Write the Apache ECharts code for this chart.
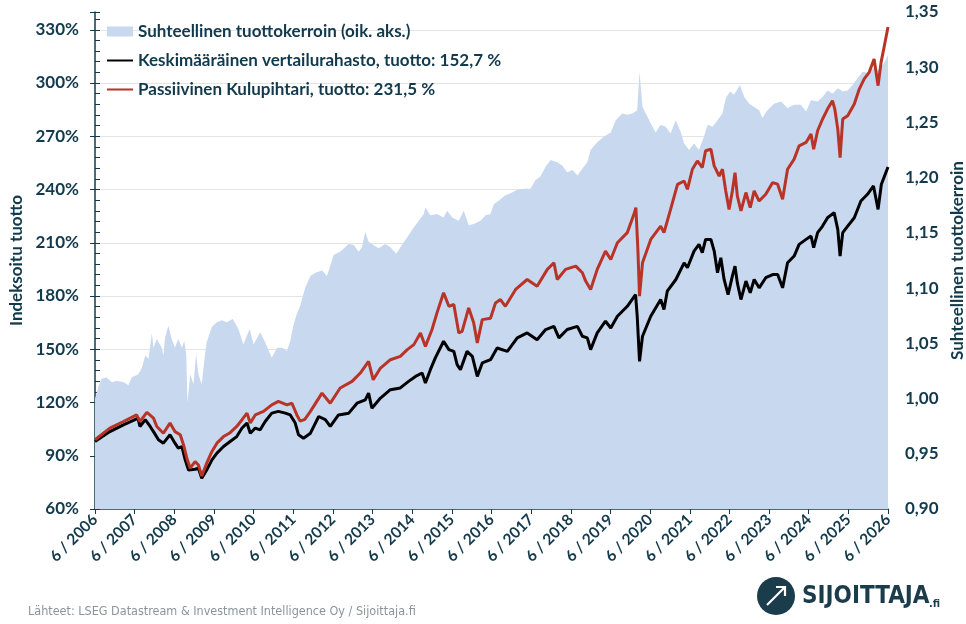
<!DOCTYPE html>
<html>
<head>
<meta charset="utf-8">
<title>Passiivinen Kulupihtari vs. vertailurahasto</title>
<script src="https://cdn.jsdelivr.net/npm/echarts@6/dist/echarts.min.js"></script>
<style>
  html, body { margin: 0; padding: 0; background: #fff; }
  #chart { width: 966px; height: 624px; }
</style>
</head>
<body>
<div id="chart"></div>
<script>
/* series names */
const seriesNames = [
  'Suhteellinen tuottokerroin (oik. aks.)',
  'Keskimääräinen vertailurahasto, tuotto: 152,7 %',
  'Passiivinen Kulupihtari, tuotto: 231,5 %'
];

/* x labels, one for every 12 months from 6/2006 */
const yearLabels = [
  '6 / 2006', '6 / 2007', '6 / 2008', '6 / 2009', '6 / 2010', '6 / 2011', '6 / 2012',
  '6 / 2013', '6 / 2014', '6 / 2015', '6 / 2016', '6 / 2017', '6 / 2018', '6 / 2019',
  '6 / 2020', '6 / 2021', '6 / 2022', '6 / 2023', '6 / 2024', '6 / 2025', '6 / 2026'
];

/* [months since 6/2006, indexed return %] */
const vertailurahasto = [
  [0,98],[4.5,103.6],[8.6,107.4],[11.6,109.9],[13,111.2],[13.6,106.5],[15.2,110.3],[16.7,106.5],[17.7,103.6],
  [19.2,99],[20.7,97.1],[22.7,101.8],[24.2,97.1],[25.2,94.3],[26.3,95.2],[27.3,87.7],[28.3,82],[30.3,82.4],
  [31.3,83],[32.3,77.3],[33.8,82],[35.4,87.7],[36.9,91.5],[38.9,95.2],[40.9,98],[42.9,100.8],[44.5,105.6],
  [46,108.4],[47,102.7],[48.5,105.6],[50,104.6],[51.5,109.3],[53.5,114],[55.5,115],[57.6,114],[59.1,113],
  [60.6,108.4],[61.6,101.8],[63.1,99.9],[65.2,102.7],[67.7,112.1],[69.7,110.3],[71.2,106.5],[73.7,113],
  [76.8,114],[79.3,119.6],[81.8,121.5],[82.8,125.3],[83.8,116.8],[86.4,122.5],[89.4,127.2],[92.4,128.2],
  [94.9,131.9],[97,134.7],[99,136.6],[100,131],[101.5,138.5],[103,145.1],[105.5,154.5],[107.1,149.8],
  [108.6,148.8],[109.6,141.3],[110.6,138.5],[112.6,148.8],[114.2,146],[115.7,134.7],[117.2,142.3],
  [119.7,144.1],[121.7,150.7],[124.8,148.8],[127.8,156.4],[130.8,159.2],[133.8,155.4],[136.4,161.1],
  [138.9,162.9],[140.4,156.4],[142.9,161.1],[146,162.9],[147.5,157.3],[149,156.4],[150,149.8],[152,159.2],
  [154.5,165.8],[156.1,162],[158.1,168.6],[161.1,174.2],[163.6,180.8],[164.1,168.6],[164.8,143.2],
  [165.7,157.3],[168.2,168.6],[171.2,178],[172.2,172.4],[173.2,182.7],[175.8,189.3],[178.3,198.7],
  [179.3,195.9],[181.3,205.3],[182.8,209.1],[183.8,204.4],[184.8,211.9],[186.4,211.9],[187.4,205.3],
  [188.4,193.1],[189.4,201.5],[190.4,189.3],[191.6,180.8],[192.9,191.2],[193.7,196.8],[194.4,187.4],
  [195.5,178],[197,188.4],[198.3,181.8],[199.5,189.3],[201,184.6],[203,190.3],[205.1,192.1],[206.6,192.1],
  [208.1,184.6],[209.6,198.7],[211.6,202.5],[213.1,209.1],[215.2,211.9],[216.7,213.8],[217.5,207.2],
  [218.7,215.7],[220.2,219.4],[221.7,224.1],[223.7,227],[224.8,217.5],[225.5,202.5],[226.3,215.7],
  [227.8,219.4],[229.8,224.1],[231.8,233.5],[233.8,237.3],[235.6,242],[237,228.8],[238,243],[240,252.7]
];

const kulupihtari = [
  [0,99],[4.5,105.6],[8.6,109.3],[12.6,113],[13.6,109.3],[15.7,114.4],[17.7,111.2],[18.7,106.5],[20.7,102.7],
  [22.7,108.4],[24.2,103.6],[25.8,101.8],[26.8,96.1],[27.8,88.6],[28.8,83],[30.3,86.7],[31.3,84.8],[32.3,78.6],
  [33.8,85.8],[35.4,92.4],[36.9,97.1],[38.9,100.8],[40.9,103],[42.9,106.5],[44.5,110.3],[46,114],[47,108.4],
  [48.5,113],[51,115],[53.5,118.7],[55.5,120.6],[58.1,118.7],[59.6,119.6],[61.1,113],[62.1,109.5],[63.5,110.5],
  [65.2,115],[68.7,125.3],[71.2,119.6],[74.2,128.2],[77.8,131.9],[80.3,136.6],[82.8,143.2],[84.2,132.8],
  [86.4,139.4],[89.4,144.1],[92.4,146],[94.5,149.8],[96.5,152.6],[98.5,159.2],[100,151.6],[102,161.1],
  [103.5,170.5],[105.5,181.8],[107.1,174.2],[108.6,175.2],[110.1,159.2],[111.1,160.1],[113.1,173.3],
  [114.6,164.9],[115.7,153.6],[117.2,166.7],[119.7,167.5],[121.2,176.1],[122.7,178],[124.2,174.2],
  [127.3,183.7],[130.8,189.3],[133.8,185.5],[136.9,195],[138.9,198.7],[139.9,189.3],[142.4,195],[145.5,196.8],
  [147.5,193.1],[148.5,188.4],[150,183.7],[152,195],[154.5,205.3],[156.1,200.6],[158.1,210],[161.1,215.7],
  [163.1,226],[163.7,229.8],[164.3,206.2],[164.8,179.9],[165.7,198.7],[168.2,211.9],[171.2,219.4],
  [172.2,215.7],[174.2,228.8],[176.3,242.9],[178.3,244.8],[179.3,240.1],[180.8,251.4],[182.3,256.1],
  [183.8,252.4],[184.8,261.8],[186.4,262.7],[187.4,253.3],[188.9,247.6],[189.9,251.4],[190.9,239.2],
  [191.9,228.8],[192.9,239.2],[193.7,249.5],[194.4,236.4],[195.5,227.9],[197,238.3],[198.3,229.8],
  [199.5,239.2],[201,233.5],[203,237.3],[205.1,243.9],[206.6,243],[208.1,234.5],[209.6,251.4],[211.6,257.1],
  [213.1,264.6],[215.2,266.5],[216.7,271.2],[217.5,262.7],[218.7,273.1],[220.2,279.7],[221.7,285.3],
  [223.2,290],[223.9,285.3],[224.8,274],[225.5,258],[226.3,279.7],[227.8,281.6],[229.8,288.2],[231.3,296.6],
  [232.8,302.3],[234.3,306],[235.8,313.5],[237,298.5],[237.9,311.6],[238.9,321],[240,331.5]
];

/* [months since 6/2006, relative return factor] */
const tuottokerroin = [
  [0,1.0],[0.5,1.001],[1.3,1.013],[2,1.018],[3.5,1.019],[5.1,1.015],[6.6,1.016],[8.6,1.015],[10.1,1.012],
  [11.1,1.019],[13.1,1.022],[14.2,1.028],[15.2,1.039],[16.2,1.036],[17.2,1.059],[17.7,1.046],[18.7,1.054],
  [20.2,1.046],[20.7,1.039],[21.2,1.055],[22.2,1.066],[23.2,1.054],[24.2,1.046],[25.2,1.054],[26.3,1.046],
  [27,1.052],[27.6,1.04],[28,0.996],[28.8,1.022],[29.8,1.013],[30.6,1.04],[31.3,1.022],[32.3,1.013],
  [33.3,1.04],[33.8,1.051],[35.4,1.065],[36.9,1.069],[38.4,1.071],[39.9,1.069],[41.7,1.072],[43.4,1.063],
  [44.9,1.049],[46.8,1.063],[48,1.049],[50,1.06],[51.5,1.051],[53.5,1.037],[55.1,1.046],[56.6,1.046],
  [58.1,1.043],[59.1,1.052],[60,1.066],[60.9,1.075],[62.1,1.084],[63.6,1.1],[65.2,1.111],[66.7,1.114],
  [68.7,1.116],[70.2,1.111],[71.2,1.12],[72.2,1.13],[74.2,1.133],[76.8,1.14],[78.3,1.139],[79.8,1.133],
  [80.8,1.137],[81.8,1.151],[82.8,1.142],[84.3,1.139],[85.8,1.136],[87.9,1.14],[89.4,1.137],[91.2,1.131],
  [92.9,1.139],[94.5,1.146],[96.5,1.155],[98,1.161],[99.5,1.167],[100,1.173],[101.5,1.166],[103.5,1.167],
  [105.5,1.164],[106.6,1.17],[108.1,1.164],[110.1,1.161],[111.6,1.17],[113.1,1.157],[114.6,1.158],
  [116.7,1.161],[118.2,1.166],[119.7,1.167],[120.7,1.176],[122.2,1.179],[124.2,1.184],[125.8,1.186],
  [127.8,1.189],[129.8,1.19],[131.8,1.19],[133.3,1.198],[134.8,1.201],[136.4,1.21],[137.9,1.216],
  [139.9,1.214],[141.4,1.211],[142.9,1.205],[144.5,1.207],[146,1.202],[147.5,1.208],[149,1.214],[150,1.225],
  [152,1.232],[154,1.237],[156.1,1.241],[157.6,1.252],[159.6,1.258],[161.1,1.257],[162.6,1.258],
  [164.1,1.261],[164.8,1.296],[165.7,1.264],[166.7,1.258],[168.2,1.249],[169.7,1.241],[171.2,1.248],
  [172.7,1.246],[174.2,1.24],[175.8,1.252],[177.3,1.241],[178.3,1.231],[179.8,1.225],[181.3,1.231],
  [182.8,1.225],[184.3,1.237],[185.4,1.248],[186.9,1.246],[188.4,1.252],[189.9,1.258],[190.9,1.272],
  [192.2,1.278],[193.4,1.275],[195.2,1.284],[196.5,1.273],[198,1.267],[199.5,1.264],[201,1.261],[202,1.254],
  [203.5,1.261],[205.5,1.267],[207.6,1.269],[209.6,1.263],[211.6,1.266],[213.6,1.266],[215.2,1.26],
  [216.7,1.27],[218.7,1.269],[220.2,1.273],[221.7,1.279],[223.2,1.276],[224.8,1.281],[226.3,1.278],
  [227.8,1.279],[229.3,1.284],[230.8,1.29],[232.3,1.296],[233.8,1.295],[235.4,1.299],[236.9,1.297],
  [238.4,1.302],[239.4,1.307],[240,1.311]
];

const sourceText = 'Lähteet: LSEG Datastream & Investment Intelligence Oy / Sijoittaja.fi';

/* colours and fonts */
const TEXT = '#123a4c';
const AREA = '#c7d8ef';
const RED = '#b93427';
const FONT = 'Lato, "Open Sans", sans-serif';
const NARROW = '"Liberation Sans Narrow", "DejaVu Sans Condensed", sans-serif';

let chart = echarts.init(document.getElementById('chart'));

let boldText = {color: TEXT, fontWeight: 'bold', fontSize: 17, fontFamily: FONT};

let option = {
  animation: false,
  backgroundColor: '#fff',
  textStyle: {fontFamily: FONT},
  /* fixed plot box, labels may sit outside it */
  grid: {left: 95, right: 78, top: 12, bottom: 115, outerBoundsMode: 'none'},
  legend: {
    orient: 'vertical',
    left: 101,
    top: 18,
    itemWidth: 26,
    itemHeight: 10,
    itemGap: 12,
    textStyle: boldText,
    data: [
      {name: seriesNames[0], icon: 'rect', itemStyle: {color: AREA}},
      seriesNames[1],
      seriesNames[2]
    ]
  },
  xAxis: {
    type: 'value',
    min: 0,
    max: 240,
    interval: 12,
    axisLine: {lineStyle: {color: TEXT, width: 1.5}},
    axisTick: {length: 5, lineStyle: {color: TEXT}},
    splitLine: {show: false},
    axisLabel: {
      rotate: 45,
      margin: 8,
      color: TEXT,
      fontWeight: 'bold',
      fontSize: 15.5,
      formatter: v => yearLabels[Math.round(v / 12)] || ''
    }
  },
  yAxis: [
    {
      type: 'value',
      position: 'left',
      min: 60,
      max: 340,
      interval: 30,
      name: 'Indeksoitu tuotto',
      nameLocation: 'middle',
      nameRotate: 90,
      nameGap: 64,
      nameTextStyle: boldText,
      axisLine: {show: true, lineStyle: {color: TEXT, width: 1.5}},
      axisTick: {show: true, inside: true, length: 5, lineStyle: {color: TEXT}},
      minorTick: {show: true, splitNumber: 5, length: 5, lineStyle: {color: TEXT}},
      splitLine: {show: true, showMaxLine: false, showMinLine: false, lineStyle: {color: '#e4e4e4'}},
      axisLabel: Object.assign({margin: 16, formatter: '{value}%', showMaxLabel: false}, boldText)
    },
    {
      type: 'value',
      position: 'right',
      min: 0.9,
      max: 1.35,
      interval: 0.05,
      name: 'Suhteellinen tuottokerroin',
      nameLocation: 'middle',
      nameRotate: 90,
      nameGap: 58,
      nameTextStyle: boldText,
      axisLine: {show: false},
      axisTick: {show: false},
      splitLine: {show: false},
      axisLabel: Object.assign({margin: 17, formatter: v => v.toFixed(2).replace('.', ',')}, boldText)
    },
    {
      /* outer half of the crossing major ticks on the left axis */
      type: 'value',
      position: 'left',
      min: 60,
      max: 340,
      interval: 30,
      axisLine: {show: false},
      axisTick: {show: true, inside: false, length: 5, lineStyle: {color: TEXT}},
      axisLabel: {show: false},
      splitLine: {show: false}
    }
  ],
  series: [
    {
      name: seriesNames[0],
      type: 'line',
      yAxisIndex: 1,
      data: tuottokerroin,
      symbol: 'none',
      silent: true,
      itemStyle: {color: AREA},
      lineStyle: {width: 0, color: AREA},
      areaStyle: {color: AREA, opacity: 1, origin: 'start'}
    },
    {
      name: seriesNames[1],
      type: 'line',
      yAxisIndex: 0,
      data: vertailurahasto,
      /* 'line' symbol keeps the legend icon a plain line */
      symbol: 'line',
      showSymbol: false,
      itemStyle: {color: '#000'},
      lineStyle: {color: '#000', width: 3}
    },
    {
      name: seriesNames[2],
      type: 'line',
      yAxisIndex: 0,
      data: kulupihtari,
      symbol: 'line',
      showSymbol: false,
      itemStyle: {color: RED},
      lineStyle: {color: RED, width: 3}
    }
  ],
  graphic: [
    {
      type: 'text',
      left: 28,
      top: 605,
      style: {text: sourceText, fill: '#8a949a', font: '12.5px ' + NARROW}
    },
    {type: 'circle', shape: {cx: 776, cy: 596, r: 19}, style: {fill: '#1b3c4b'}},
    {type: 'line', shape: {x1: 767, y1: 605, x2: 785, y2: 587}, style: {stroke: '#fff', lineWidth: 2.2}},
    {
      type: 'polyline',
      shape: {points: [[776, 587], [785, 587], [785, 596]]},
      style: {stroke: '#fff', lineWidth: 2.2, fill: null}
    },
    {
      type: 'text',
      left: 802,
      top: 585,
      style: {text: 'SIJOITTAJA', fill: '#1b3c4b', font: 'bold 24px ' + NARROW}
    },
    {
      type: 'text',
      left: 929,
      top: 599,
      style: {text: '.fi', fill: '#1b3c4b', font: 'bold 11px ' + NARROW}
    }
  ]
};

chart.setOption(option);
</script>
</body>
</html>
